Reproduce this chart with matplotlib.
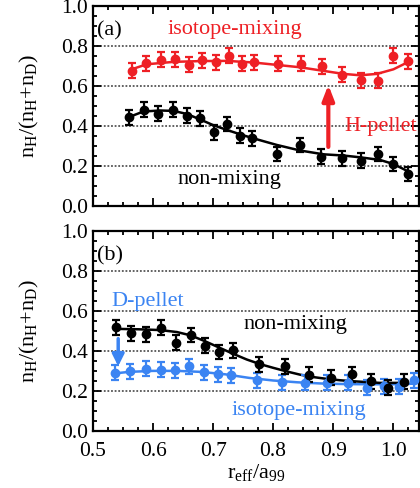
import matplotlib
matplotlib.use("Agg")
import matplotlib.pyplot as plt
from matplotlib.ticker import MultipleLocator

plt.rcParams['font.family'] = ['Liberation Serif', 'DejaVu Serif']
plt.rcParams['mathtext.fontset'] = 'custom'
plt.rcParams['mathtext.rm'] = 'Liberation Serif'
plt.rcParams['mathtext.it'] = 'Liberation Serif:italic'

RED = '#ee2025'
BLUE = '#3b84f2'

# (a) H-pellet
a_mix_r = [0.5645, 0.588, 0.613, 0.637, 0.66, 0.682, 0.7045, 0.727, 0.748,
           0.768, 0.808, 0.847, 0.882, 0.9155, 0.9467, 0.9745, 1.0005, 1.0255]
a_mix_y = [0.675, 0.713, 0.73, 0.733, 0.705, 0.727, 0.717, 0.75, 0.71,
           0.717, 0.71, 0.71, 0.697, 0.655, 0.627, 0.625, 0.75, 0.722]
a_mix_err = [0.037] * 18

a_non_r = [0.56, 0.5847, 0.609, 0.633, 0.6562, 0.679, 0.702, 0.7238, 0.7445,
           0.7655, 0.8072, 0.845, 0.8805, 0.9155, 0.9462, 0.974, 1.0005, 1.024]
a_non_y = [0.443, 0.48, 0.46, 0.48, 0.45, 0.438, 0.368, 0.41, 0.352,
           0.338, 0.26, 0.305, 0.247, 0.238, 0.227, 0.26, 0.21, 0.16]
a_non_err = [0.037] * 18

a_mix_fit_r = [0.5645, 0.5895, 0.634, 0.68, 0.723, 0.767, 0.806, 0.845,
               0.884, 0.917, 0.945, 0.973, 1.0005, 1.0255]
a_mix_fit_y = [0.683, 0.708, 0.72, 0.724, 0.725, 0.717, 0.705, 0.693,
               0.675, 0.66, 0.653, 0.66, 0.683, 0.72]
a_non_fit_r = [0.559, 0.584, 0.612, 0.634, 0.656, 0.678, 0.7, 0.723, 0.745,
               0.767, 0.806, 0.845, 0.884, 0.917, 0.945, 0.978, 1.0, 1.0255]
a_non_fit_y = [0.443, 0.472, 0.477, 0.475, 0.46, 0.433, 0.404, 0.38, 0.358,
               0.338, 0.305, 0.277, 0.258, 0.252, 0.243, 0.23, 0.21, 0.172]

# (b) D-pellet
b_non_r = [0.538, 0.5633, 0.588, 0.6138, 0.638, 0.663, 0.687, 0.71, 0.733,
           0.777, 0.819, 0.859, 0.8962, 0.931, 0.963, 0.991, 1.0172]
b_non_y = [0.517, 0.488, 0.483, 0.515, 0.44, 0.479, 0.426, 0.394, 0.402,
           0.332, 0.323, 0.281, 0.265, 0.282, 0.248, 0.215, 0.246]
b_non_err = [0.037] * 17

b_mix_r = [0.5367, 0.5617, 0.588, 0.613, 0.637, 0.6605, 0.685, 0.708, 0.7295,
           0.7728, 0.815, 0.8533, 0.8905, 0.9255, 0.956, 0.984, 1.01, 1.035]
b_mix_y = [0.29, 0.298, 0.31, 0.305, 0.302, 0.323, 0.292, 0.282, 0.277,
           0.253, 0.243, 0.24, 0.24, 0.24, 0.215, 0.222, 0.22, 0.252]
b_mix_err = [0.037] * 18

b_non_fit_r = [0.538, 0.575, 0.612, 0.64, 0.662, 0.686, 0.7105, 0.733, 0.756,
               0.778, 0.8005, 0.823, 0.845, 0.867, 0.8895, 0.912, 0.934, 0.956,
               0.978, 1.017]
b_non_fit_y = [0.51, 0.508, 0.504, 0.494, 0.478, 0.449, 0.416, 0.386, 0.357,
               0.334, 0.315, 0.297, 0.281, 0.269, 0.26, 0.253, 0.248, 0.244,
               0.24, 0.24]
b_mix_fit_r = [0.538, 0.56, 0.6, 0.64, 0.68, 0.72, 0.76, 0.8, 0.84, 0.88,
               0.92, 0.96, 1.0, 1.035]
b_mix_fit_y = [0.288, 0.295, 0.3, 0.3, 0.295, 0.283, 0.265, 0.252, 0.243,
               0.237, 0.234, 0.233, 0.233, 0.236]

fig = plt.figure(figsize=(4.2, 4.88), dpi=100)
ax1 = fig.add_axes([0.2214, 0.578, 0.7762, 0.41])
ax2 = fig.add_axes([0.2214, 0.117, 0.7762, 0.41])


def style(ax):
    ax.set_xlim(0.5, 1.043)
    ax.set_ylim(0.0, 1.0)
    ax.xaxis.set_major_locator(MultipleLocator(0.1))
    ax.xaxis.set_minor_locator(MultipleLocator(0.025))
    ax.yaxis.set_major_locator(MultipleLocator(0.2))
    ax.yaxis.set_minor_locator(MultipleLocator(0.05))
    ax.tick_params(which='both', direction='in', top=True, right=True,
                   labelsize=15.5, width=1.3)
    ax.tick_params(which='major', length=6)
    ax.tick_params(which='minor', length=3)
    ax.tick_params(axis='x', pad=8)
    for s in ax.spines.values():
        s.set_linewidth(1.6)
    for g in [0.2, 0.4, 0.6, 0.8]:
        ax.axhline(g, color='#555555', lw=1.3, ls=(0, (1, 1)), zorder=0)
    ax.set_ylabel(r'$\mathrm{n_H/(n_H{+}n_D)}$', fontsize=16)
    ax.yaxis.set_label_coords(-0.16, 0.5)


def series(ax, r, y, err, fit_r, fit_y, color):
    ax.errorbar(r, y, yerr=err, fmt='o', color=color, ms=6, elinewidth=1.6,
                capsize=3, capthick=1.6, zorder=3)
    ax.plot(fit_r, fit_y, color=color, lw=1.8, zorder=2)


style(ax1)
series(ax1, a_mix_r, a_mix_y, a_mix_err, a_mix_fit_r, a_mix_fit_y, RED)
series(ax1, a_non_r, a_non_y, a_non_err, a_non_fit_r, a_non_fit_y, 'black')
ax1.annotate('', xy=(0.892, 0.605), xytext=(0.892, 0.295),
             arrowprops=dict(arrowstyle='-|>,head_length=0.9,head_width=0.35',
                             color=RED, lw=3, shrinkA=0, shrinkB=0))
ax1.text(0.012, 0.875, '(a)', transform=ax1.transAxes, fontsize=16,
         va='center', ha='left')
ax1.text(0.7355, 0.88, 'isotope-mixing', color=RED, fontsize=16,
         ha='center', va='center')
ax1.text(0.98, 0.395, 'H-pellet', color=RED, fontsize=16,
         ha='center', va='center')
ax1.text(0.7265, 0.13, 'non-mixing', color='black', fontsize=16,
         ha='center', va='center')
ax1.set_xticklabels([])

style(ax2)
series(ax2, b_mix_r, b_mix_y, b_mix_err, b_mix_fit_r, b_mix_fit_y, BLUE)
series(ax2, b_non_r, b_non_y, b_non_err, b_non_fit_r, b_non_fit_y, 'black')
ax2.annotate('', xy=(0.542, 0.323), xytext=(0.542, 0.461),
             arrowprops=dict(arrowstyle='-|>,head_length=0.7,head_width=0.35',
                             color=BLUE, lw=2.5, shrinkA=0, shrinkB=0))
ax2.text(0.012, 0.875, '(b)', transform=ax2.transAxes, fontsize=16,
         va='center', ha='left')
ax2.text(0.5915, 0.645, 'D-pellet', color=BLUE, fontsize=16,
         ha='center', va='center')
ax2.text(0.8375, 0.53, 'non-mixing', color='black', fontsize=16,
         ha='center', va='center')
ax2.text(0.8435, 0.1, 'isotope-mixing', color=BLUE, fontsize=16,
         ha='center', va='center')
ax2.set_xlabel(r'$\mathrm{r_{eff}/a_{99}}$', fontsize=16, labelpad=1)

fig.savefig('out.png', dpi=100)
